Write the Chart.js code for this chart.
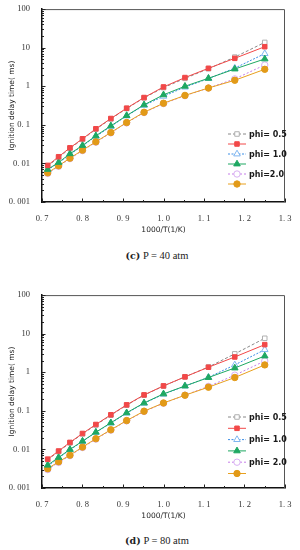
<!DOCTYPE html>
<html>
<head>
<meta charset="utf-8">
<script src="https://cdn.jsdelivr.net/npm/chart.js@4.4.0/dist/chart.umd.min.js"></script>
<style>
  body { margin: 0; background: #fff; width: 300px; height: 550px; overflow: hidden; }
  .panel { position: absolute; left: 0; width: 300px; height: 235px; }
  .caption { position: absolute; left: 0; width: 314px; text-align: center;
             font-family: "Liberation Serif", "DejaVu Serif", serif; font-size: 10.5px; color: #222; }
  .caption b { font-family: "DejaVu Serif", serif; font-size: 9.5px; }
</style>
</head>
<body>
<div class="panel" style="top:0"><canvas id="chartC" width="300" height="235"></canvas></div>
<div class="caption" style="top:250px"><b>(c)</b> P = 40 atm</div>
<div class="panel" style="top:286px"><canvas id="chartD" width="300" height="235"></canvas></div>
<div class="caption" style="top:535px"><b>(d)</b> P = 80 atm</div>

<script>
// 1000/T values shared by both panels
const invT = [0.714, 0.741, 0.769, 0.8, 0.833, 0.87, 0.909, 0.952, 1.0, 1.053, 1.111, 1.176, 1.25];
const yTicks = [0.001, 0.01, 0.1, 1, 10, 100];
const xTicks = [0.7, 0.8, 0.9, 1.0, 1.1, 1.2, 1.3];
const legendLabels = ['phi= 0.5', '', 'phi= 1.0', '', 'phi=2.0', ''];
const legendLabelsD = ['phi= 0.5', '', 'phi= 1.0', '', 'phi= 2.0', ''];

// (c) P = 40 atm
const c_phi05_open = [0.0085, 0.0142, 0.0245, 0.042, 0.077, 0.142, 0.265, 0.5, 0.92, 1.6, 2.85, 5.7, 13.7];
const c_phi05 = [0.0089, 0.0149, 0.0254, 0.0435, 0.079, 0.146, 0.27, 0.51, 0.96, 1.68, 2.92, 5.3, 10.6];
const c_phi10_open = [0.0068, 0.0103, 0.0172, 0.0285, 0.05, 0.091, 0.17, 0.32, 0.55, 0.95, 1.58, 2.95, 7.0];
const c_phi10 = [0.007, 0.0106, 0.0178, 0.0292, 0.052, 0.094, 0.174, 0.33, 0.6, 1.0, 1.61, 2.8, 5.1];
const c_phi20_open = [0.0055, 0.0084, 0.0133, 0.0215, 0.0355, 0.062, 0.112, 0.208, 0.355, 0.57, 0.9, 1.55, 3.56];
const c_phi20 = [0.0057, 0.0087, 0.0137, 0.0221, 0.0363, 0.0634, 0.115, 0.212, 0.363, 0.58, 0.9, 1.43, 2.75];

// (d) P = 80 atm
const d_phi05_open = [0.0054, 0.0088, 0.0148, 0.0252, 0.043, 0.077, 0.14, 0.255, 0.44, 0.76, 1.37, 3.0, 7.6];
const d_phi05 = [0.0056, 0.0091, 0.0152, 0.0259, 0.0443, 0.079, 0.143, 0.259, 0.443, 0.76, 1.35, 2.49, 5.2];
const d_phi10_open = [0.0037, 0.006, 0.0098, 0.016, 0.0275, 0.048, 0.087, 0.157, 0.27, 0.44, 0.74, 1.55, 3.85];
const d_phi10 = [0.0039, 0.0062, 0.01, 0.0164, 0.028, 0.049, 0.089, 0.16, 0.275, 0.44, 0.73, 1.29, 2.64];
const d_phi20_open = [0.003, 0.0046, 0.0069, 0.0112, 0.0185, 0.0315, 0.055, 0.096, 0.157, 0.255, 0.43, 0.84, 1.96];
const d_phi20 = [0.00316, 0.0048, 0.0071, 0.0115, 0.019, 0.0323, 0.056, 0.098, 0.16, 0.254, 0.41, 0.73, 1.55];

// series styles: open/dashed (calculated) and filled/solid
const styles = [
    { line: '#888888', point: '#b0b0b0', fill: '#ffffff', shape: 'rect', dash: [3, 2], r: 3.2 },
    { line: '#f24848', point: '#f24848', fill: '#f24848', shape: 'rect', dash: [], r: 3.2 },
    { line: '#3d8fe6', point: '#7fb6f0', fill: '#ffffff', shape: 'triangle', dash: [2, 1.5], r: 3.8 },
    { line: '#1ea862', point: '#1ea862', fill: '#1ea862', shape: 'triangle', dash: [], r: 3.8 },
    { line: '#c57de8', point: '#d8b0f2', fill: '#ffffff', shape: 'circle', dash: [2, 2], r: 3.2 },
    { line: '#e8a01e', point: '#e29a18', fill: '#e29a18', shape: 'circle', dash: [], r: 3.2 }
];

function toPoints(arr) {
    return arr.map((v, i) => ({ x: invT[i], y: v }));
}

function makeDatasets(series) {
    return series.map((arr, i) => {
        const s = styles[i];
        return {
            data: toPoints(arr),
            borderColor: s.line,
            borderWidth: 1,
            borderDash: s.dash,
            pointStyle: s.shape,
            pointRadius: s.r,
            pointBorderColor: s.point,
            pointBackgroundColor: s.fill,
            pointBorderWidth: 1,
            order: i % 2 === 0 ? 1 : 0
        };
    });
}

// draws inside ticks, top/right frame and the in-plot legend
const framePlugin = {
    id: 'frame',
    afterDraw(chart, args, opts) {
        const ctx = chart.ctx;
        const a = chart.chartArea;
        const xs = chart.scales.x, ys = chart.scales.y;
        ctx.save();
        // top and right frame
        ctx.strokeStyle = '#555';
        ctx.lineWidth = 1;
        ctx.beginPath();
        ctx.moveTo(a.left, a.top + 0.5);
        ctx.lineTo(a.right - 0.5, a.top + 0.5);
        ctx.lineTo(a.right - 0.5, a.bottom);
        ctx.stroke();

        ctx.strokeStyle = '#222';
        ctx.beginPath();
        // x ticks, major every 0.1 and minor at 0.05
        for (let k = 0; k <= 12; k++) {
            const v = 0.7 + k * 0.05;
            const px = Math.round(xs.getPixelForValue(v)) + 0.5;
            const len = k % 2 === 0 ? 3.5 : 2;
            ctx.moveTo(px, a.bottom);
            ctx.lineTo(px, a.bottom - len);
        }
        // y ticks, decades and minor log ticks
        yTicks.forEach((d, j) => {
            const py = Math.round(ys.getPixelForValue(d)) + 0.5;
            ctx.moveTo(a.left, py);
            ctx.lineTo(a.left + 3.5, py);
            if (j < yTicks.length - 1) {
                for (let m = 2; m <= 9; m++) {
                    const q = Math.round(ys.getPixelForValue(d * m)) + 0.5;
                    ctx.moveTo(a.left, q);
                    ctx.lineTo(a.left + 2, q);
                }
            }
        });
        ctx.stroke();

        // legend
        const lg = opts.legend;
        chart.data.datasets.forEach((ds, i) => {
            const y = lg.y0 + i * lg.step;
            ctx.strokeStyle = ds.borderColor;
            ctx.lineWidth = 1;
            ctx.setLineDash(ds.borderDash);
            ctx.beginPath();
            ctx.moveTo(lg.x0, y);
            ctx.lineTo(lg.x0 + 18, y);
            ctx.stroke();
            ctx.setLineDash([]);
            ctx.fillStyle = ds.pointBackgroundColor;
            ctx.strokeStyle = ds.pointBorderColor;
            Chart.helpers.drawPoint(ctx, {
                pointStyle: ds.pointStyle,
                radius: ds.pointRadius,
                borderWidth: 1,
                rotation: 0
            }, lg.x0 + 9, y);
            const label = lg.labels[i];
            if (label) {
                ctx.fillStyle = '#1a1a1a';
                ctx.font = 'bold 8px "DejaVu Sans", sans-serif';
                ctx.textBaseline = 'middle';
                ctx.textAlign = 'left';
                ctx.fillText(label, lg.x0 + 21, y + 0.5);
            }
        });
        ctx.restore();
    }
};

function makeChart(id, series, legend) {
    return new Chart(document.getElementById(id), {
        type: 'line',
        data: { datasets: makeDatasets(series) },
        plugins: [framePlugin],
        options: {
            responsive: false,
            animation: false,
            events: [],
            layout: { padding: { left: 0, right: 15, top: 8, bottom: 0 } },
            plugins: {
                legend: { display: false },
                tooltip: { enabled: false },
                frame: { legend: legend }
            },
            scales: {
                x: {
                    type: 'linear',
                    min: 0.7,
                    max: 1.3,
                    afterBuildTicks: s => { s.ticks = xTicks.map(v => ({ value: v })); },
                    afterFit: s => { s.height = 33; },
                    grid: { display: false },
                    border: { display: true, color: '#111', width: 1.5 },
                    ticks: {
                        padding: 4,
                        color: '#333',
                        font: { family: '"Liberation Serif", "DejaVu Serif", serif', size: 8.5 },
                        callback: v => v.toFixed(1).replace('.', '. ')
                    },
                    title: {
                        display: true,
                        text: '1000/T(1/K)',
                        color: '#222',
                        padding: { top: 3, bottom: 0 },
                        font: { family: '"DejaVu Sans", sans-serif', size: 7.5 }
                    }
                },
                y: {
                    type: 'logarithmic',
                    min: 0.001,
                    max: 100,
                    afterBuildTicks: s => { s.ticks = yTicks.map(v => ({ value: v })); },
                    afterFit: s => { s.width = 42; },
                    grid: { display: false },
                    border: { display: true, color: '#111', width: 1.5 },
                    ticks: {
                        padding: 4,
                        color: '#333',
                        font: { family: '"Liberation Serif", "DejaVu Serif", serif', size: 8.5 },
                        callback: v => String(v).replace('.', '. ')
                    },
                    title: {
                        display: true,
                        text: 'Ignition delay time( ms)',
                        color: '#222',
                        padding: { top: 8, bottom: 0 },
                        font: { family: '"DejaVu Sans", sans-serif', size: 7.5 }
                    }
                }
            }
        }
    });
}

makeChart('chartC',
    [c_phi05_open, c_phi05, c_phi10_open, c_phi10, c_phi20_open, c_phi20],
    { x0: 228, y0: 134, step: 10, labels: legendLabels });
makeChart('chartD',
    [d_phi05_open, d_phi05, d_phi10_open, d_phi10, d_phi20_open, d_phi20],
    { x0: 228, y0: 131, step: 11.3, labels: legendLabelsD });
</script>
</body>
</html>
